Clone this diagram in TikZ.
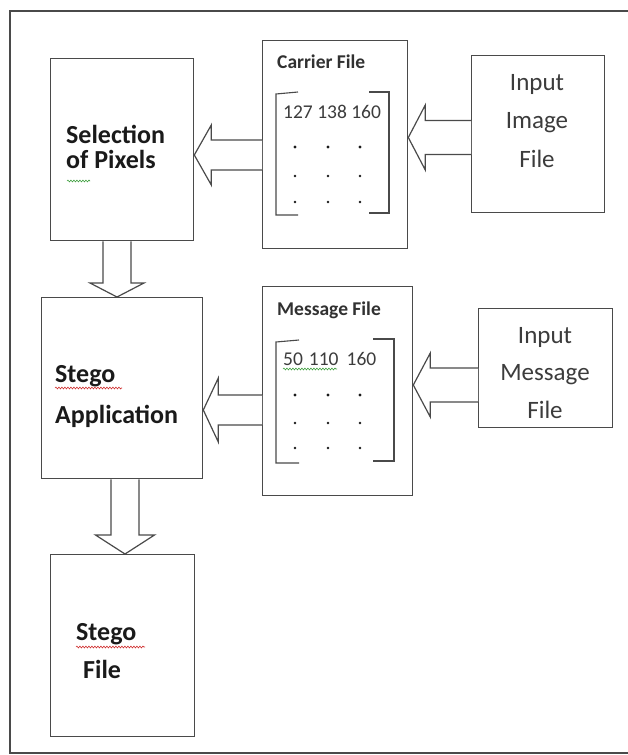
\documentclass[tikz,border=0pt]{standalone}
\usepackage{fontspec}
\setmainfont{Carlito}
\usetikzlibrary{calc,decorations.pathmorphing}

\definecolor{edge}{HTML}{4A4A4A}
\definecolor{ink}{HTML}{1A1A1A}
\definecolor{spellred}{HTML}{D03030}
\definecolor{spellgreen}{HTML}{40A040}

% Block arrows: tail, tip, head length, shaft half-width, head half-width
\newcommand\blkarrowL[5]{%
  \draw[barrow] ($(#1)+(0,-#4)$) -- ($(#2)+(#3,-#4)$) -- ($(#2)+(#3,-#5)$) -- (#2)
    -- ($(#2)+(#3,#5)$) -- ($(#2)+(#3,#4)$) -- ($(#1)+(0,#4)$);}
\newcommand\blkarrowD[5]{%
  \draw[barrow] ($(#1)+(-#4,0)$) -- ($(#2)+(-#4,-#3)$) -- ($(#2)+(-#5,-#3)$) -- (#2)
    -- ($(#2)+(#5,-#3)$) -- ($(#2)+(#4,-#3)$) -- ($(#1)+(#4,0)$);}

\begin{document}
\begin{tikzpicture}[x=1pt,y=-1pt,
  box/.style={draw=edge,line width=1.3pt,fill=white,anchor=north west,inner sep=0pt},
  barrow/.style={draw=edge,line width=1.2pt,fill=white,line join=miter},
  bigbold/.style={font=\fontsize{26}{26}\selectfont\bfseries,text=ink,inner sep=0pt,anchor=base west},
  bigreg/.style={font=\fontsize{25}{25}\selectfont,text=ink!85,inner sep=0pt,anchor=base},
  title/.style={font=\fontsize{19.5}{19.5}\selectfont\bfseries,text=ink!90,inner sep=0pt,anchor=base west},
  nums/.style={font=\fontsize{19.5}{19.5}\selectfont,text=ink!85,inner sep=0pt,anchor=base west},
  bracket/.style={draw=edge,line width=1.1pt},
  dotmark/.style={fill=ink,draw=none},
  wavy/.style={line width=0.6pt,decorate,decoration={snake,amplitude=0.9pt,segment length=3pt}}]

% canvas and page frame
\fill[white] (0,0) rectangle (628,755);
\useasboundingbox (0,0) rectangle (628,755);
\draw[edge,line width=1.5pt] (628,11) -- (10,11) -- (10,753) -- (628,753);

% process boxes
\node[box,minimum width=143pt,minimum height=182pt] (sel) at (50,58) {};
\node[box,minimum width=161pt,minimum height=181pt] (app) at (41,297) {};
\node[box,minimum width=144pt,minimum height=182pt] (out) at (50,554) {};
\node[box,minimum width=145pt,minimum height=208pt] (carrier) at (262,40) {};
\node[box,minimum width=150pt,minimum height=209pt] (msg) at (262,286) {};
\node[box,minimum width=133pt,minimum height=157pt] (img) at (471,55) {};
\node[box,minimum width=134pt,minimum height=119pt] (inmsg) at (478,308) {};

% arrow levels
\coordinate (y1) at (0,155);
\coordinate (y2) at (0,137.5);
\coordinate (y3) at (0,410);
\coordinate (y4) at (0,385);
\coordinate (x1) at (117,0);
\coordinate (x2) at (125,0);

\blkarrowL{carrier.west |- y1}{sel.east |- y1}{17}{15}{30}
\blkarrowL{img.west |- y2}{carrier.east |- y2}{17}{17}{32.5}
\blkarrowL{msg.west |- y3}{app.east |- y3}{15}{15}{32}
\blkarrowL{inmsg.west |- y4}{msg.east |- y4}{17}{17}{32}
\blkarrowD{sel.south -| x1}{app.north -| x1}{14}{14}{27}
\blkarrowD{app.south -| x2}{out.north -| x2}{19}{14}{29.5}

% box labels
\node[bigbold] (t1) at (66,143) {Selection};
\node[bigbold] (t2) at (66,168) {of Pixels};
\node[bigbold] (t3) at (55,382) {Stego};
\node[bigbold] (t4) at (55,423) {Application};
\node[bigbold] (t5) at (76,640) {Stego};
\node[bigbold] (t6) at (83,678) {File};

\node[bigreg] (t7) at (537,90) {Input};
\node[bigreg] (t8) at (537,128) {Image};
\node[bigreg] (t9) at (537,167) {File};
\node[bigreg] (t10) at (545,343) {Input};
\node[bigreg] (t11) at (545,380) {Message};
\node[bigreg] (t12) at (545,418) {File};

\node[title] (t13) at (277,68) {Carrier File};
\node[title] (t14) at (277,315) {Message File};

% carrier matrix
\node[nums] (t15) at (283,118) {127 138 160};
\draw[bracket] (298,92) -- (276,94) -- (276,215) -- (298,215);
\draw[bracket] (369,92) -- (389,92) -- (389,213) -- (369,213);
\foreach \yy/\rr in {147/1.7,176/1.4,202/1.4}
  \foreach \xx in {295,328,360}
    \fill[dotmark] (\xx,\yy) circle (\rr);

% message matrix
\node[nums] (t16) at (283,365) {50\hspace{6pt}110\hspace{8pt}160};
\draw[bracket] (299,340) -- (276,342) -- (276,463) -- (299,463);
\draw[bracket] (373,339) -- (394,339) -- (394,461) -- (373,461);
\foreach \yy/\rr in {395/1.7,423/1.4,448/1.4}
  \foreach \xx in {295,328,360}
    \fill[dotmark] (\xx,\yy) circle (\rr);

% spell-check squiggles
\draw[spellgreen,wavy] (67,181) -- (90,181);
\draw[spellred,wavy] (55,388) -- (122,388);
\draw[spellred,wavy] (76,647) -- (145,647);
\draw[spellgreen,wavy] (283,369) -- (337,369);
\end{tikzpicture}
\end{document}
